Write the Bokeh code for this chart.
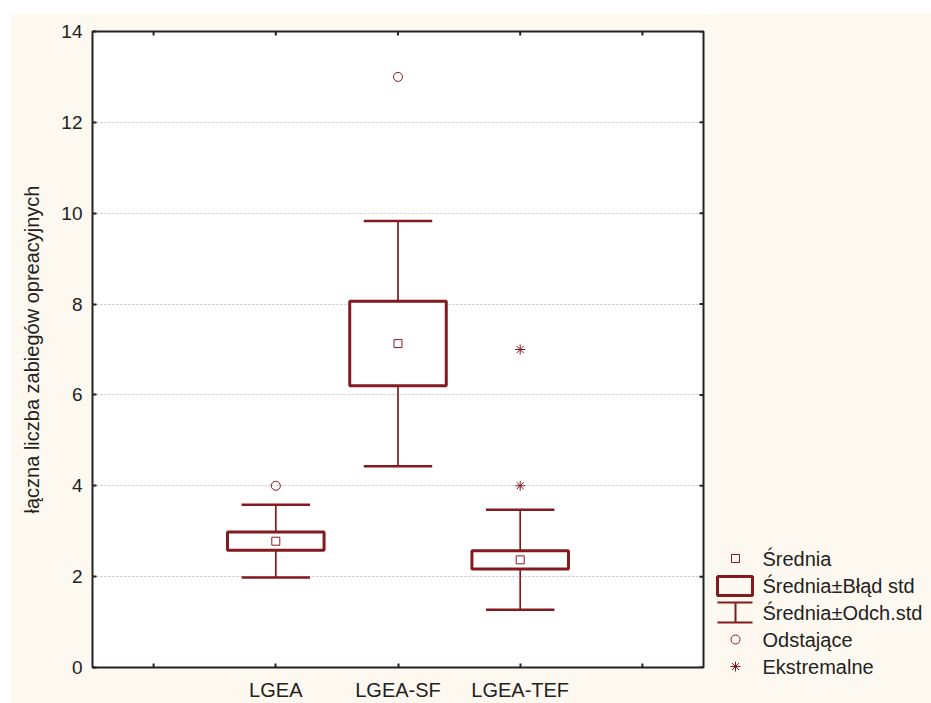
import math
from bokeh.plotting import figure
from bokeh.models import FixedTicker, Range1d
from bokeh.layouts import row, column
from bokeh.core.properties import value
from bokeh.embed import file_html
from bokeh.resources import INLINE

# ---- data ----
categories = ["LGEA", "LGEA-SF", "LGEA-TEF"]
means = [2.78, 7.13, 2.37]
std_err = [0.20, 0.93, 0.20]
std_dev = [0.80, 2.70, 1.10]
outlier_cat = ["LGEA", "LGEA-SF"]
outlier_val = [4.0, 13.0]
extreme_cat = ["LGEA-TEF", "LGEA-TEF"]
extreme_val = [7.0, 4.0]
y_ticks = [0, 2, 4, 6, 8, 10, 12, 14]
legend_labels = ["Średnia", "Średnia±Błąd std", "Średnia±Odch.std", "Odstające", "Ekstremalne"]
y_title = "łączna liczba zabiegów opreacyjnych"

# ---- styles ----
CREAM = "#fdf9f0"
RED = "#841a1e"
TXT = "#222222"
FRAME = "#222222"
FONT = "Liberation Sans"
BOX_HALF = 0.395
CAP_HALF = 0.28
X_MAX = 5
Y_MAX = 14

pos = {c: i + 1.5 for i, c in enumerate(categories)}
xs = [pos[c] for c in categories]
edge_ticks = [0.5, len(categories) + 1.5]
all_x_ticks = sorted(xs + edge_ticks)

p = figure(width=705, height=690, x_range=Range1d(0, X_MAX), y_range=Range1d(0, Y_MAX),
           title=None, output_backend="svg", toolbar_location=None,
           min_border_left=82, min_border_right=12, min_border_top=18, min_border_bottom=36,
           background_fill_color="white", border_fill_color=CREAM,
           outline_line_color=FRAME, outline_line_width=2, margin=(13, 0, 0, 10))

# axes
p.xaxis.ticker = FixedTicker(ticks=xs)
p.xaxis.major_label_overrides = {pos[c]: c for c in categories}
p.yaxis.ticker = FixedTicker(ticks=y_ticks)
for ax in (p.xaxis[0], p.yaxis[0]):
    ax.axis_line_color = None
    ax.major_tick_in = 4
    ax.major_tick_out = 0
    ax.minor_tick_line_color = None
    ax.major_tick_line_color = FRAME
    ax.major_tick_line_width = 2
    ax.major_label_text_font = FONT
    ax.major_label_text_color = TXT
p.xaxis.major_label_text_font_size = "20px"
p.yaxis.major_label_text_font_size = "19px"
p.xaxis.major_label_standoff = 11
p.yaxis.major_label_standoff = 10
p.yaxis.axis_label = y_title
p.yaxis.axis_label_text_font = FONT
p.yaxis.axis_label_text_font_size = "20px"
p.yaxis.axis_label_text_font_style = "normal"
p.yaxis.axis_label_text_color = TXT
p.yaxis.axis_label_standoff = 15

p.xgrid.grid_line_color = None
p.ygrid.ticker = FixedTicker(ticks=y_ticks)
p.ygrid.grid_line_color = "#c4c4c4"
p.ygrid.grid_line_dash = "2 2"
p.ygrid.grid_line_width = 1

# inward tick marks on the other frame sides (half of each dash is clipped by the frame)
p.scatter(x=all_x_ticks, y=[Y_MAX] * len(all_x_ticks), marker="dash", angle=math.pi / 2,
          size=8, line_color=FRAME, line_width=2)
p.scatter(x=edge_ticks, y=[0] * len(edge_ticks), marker="dash", angle=math.pi / 2,
          size=8, line_color=FRAME, line_width=2)
p.scatter(x=[X_MAX] * len(y_ticks), y=y_ticks, marker="dash", size=8,
          line_color=FRAME, line_width=2)

# whiskers (mean ± SD)
lo_sd = [m - s for m, s in zip(means, std_dev)]
hi_sd = [m + s for m, s in zip(means, std_dev)]
p.segment(x0=xs, y0=lo_sd, x1=xs, y1=hi_sd, line_color=RED, line_width=1.7)
p.segment(x0=[x - CAP_HALF for x in xs], y0=lo_sd, x1=[x + CAP_HALF for x in xs], y1=lo_sd,
          line_color=RED, line_width=2.5)
p.segment(x0=[x - CAP_HALF for x in xs], y0=hi_sd, x1=[x + CAP_HALF for x in xs], y1=hi_sd,
          line_color=RED, line_width=2.5)

# boxes (mean ± SE)
p.quad(left=[x - BOX_HALF for x in xs], right=[x + BOX_HALF for x in xs],
       bottom=[m - s for m, s in zip(means, std_err)], top=[m + s for m, s in zip(means, std_err)],
       fill_color="white", line_color=RED, line_width=3)

# means
p.scatter(x=xs, y=means, marker="square", size=8, fill_color="white", line_color=RED, line_width=1)
# outliers / extremes
p.scatter(x=[pos[c] for c in outlier_cat], y=outlier_val, marker="circle", size=9,
          fill_color=None, line_color=RED, line_width=1)
p.scatter(x=[pos[c] for c in extreme_cat], y=extreme_val, marker="asterisk", size=10,
          line_color=RED, line_width=1)

# ---- legend panel (page pixel coordinates) ----
lg = figure(width=216, height=690, x_range=Range1d(715, 931), y_range=Range1d(703, 13),
            title=None, output_backend="svg", toolbar_location=None, min_border=0,
            x_axis_type=None, y_axis_type=None, outline_line_color=None,
            background_fill_color=CREAM, border_fill_color=CREAM, margin=(13, 0, 0, 0))
lg.grid.visible = False
icon_x = 735
row_y = [558, 585.5, 612, 639, 666]
lg.scatter(x=[icon_x], y=[row_y[0]], marker="square", size=8, fill_color=None,
           line_color=RED, line_width=1)
lg.quad(left=[717], right=[752], top=[row_y[1] - 9.5], bottom=[row_y[1] + 9.5],
        fill_color=None, line_color=RED, line_width=3)
lg.segment(x0=[717, 717, icon_x], y0=[row_y[2] - 10, row_y[2] + 10, row_y[2] - 10],
           x1=[752, 752, icon_x], y1=[row_y[2] - 10, row_y[2] + 10, row_y[2] + 10],
           line_color=RED, line_width=2)
lg.scatter(x=[icon_x], y=[row_y[3]], marker="circle", size=9, fill_color=None,
           line_color=RED, line_width=1)
lg.scatter(x=[icon_x], y=[row_y[4]], marker="asterisk", size=10, line_color=RED, line_width=1)
lg.text(x=[762] * len(legend_labels), y=row_y, text=legend_labels, text_baseline="middle",
        text_align="left", text_font=value(FONT), text_font_size="20px", text_color=TXT)

layout = row(p, column(lg))
open("out.html", "w").write(file_html(layout, INLINE))
